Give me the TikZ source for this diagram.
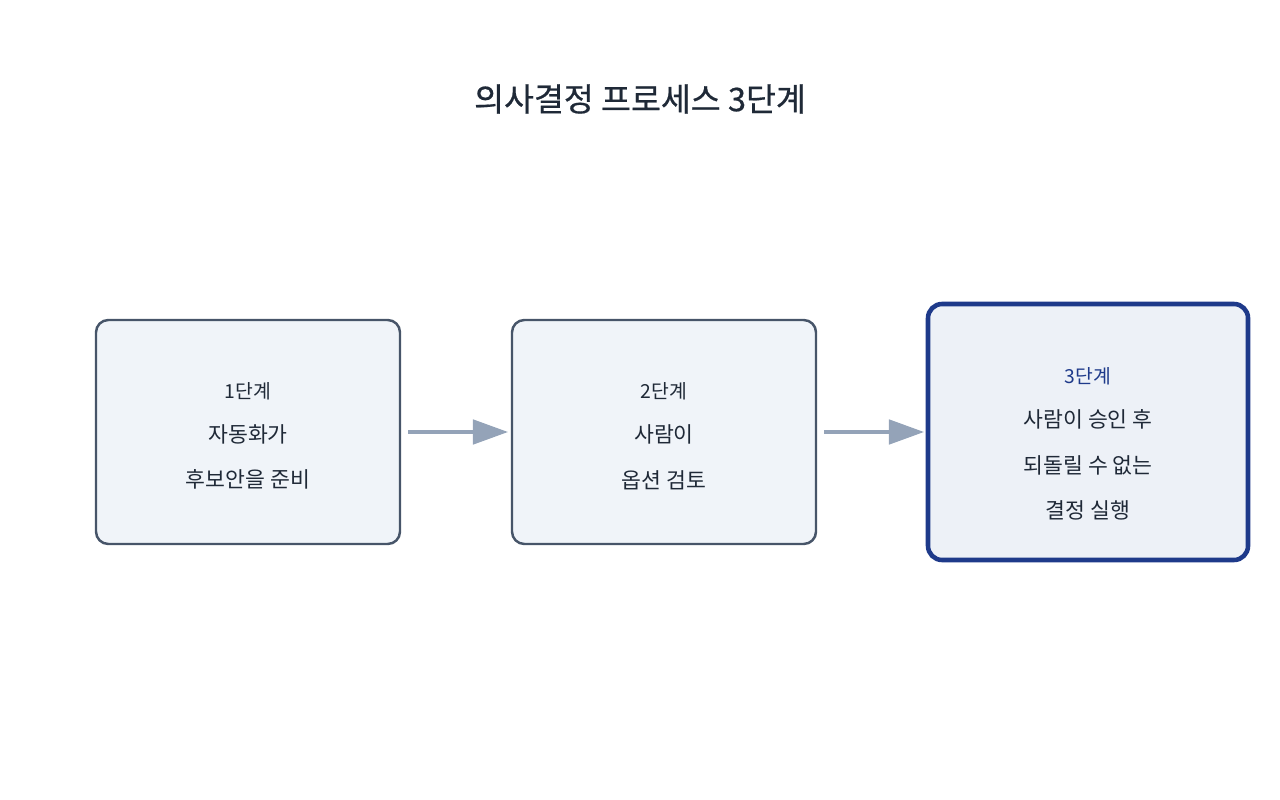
\documentclass[tikz,border=0pt]{standalone}
\usepackage{fontspec}
\setmainfont{Noto Sans CJK KR}
\usetikzlibrary{arrows.meta}
\definecolor{txt}{HTML}{1F2937}
\definecolor{bord}{HTML}{475569}
\definecolor{fillA}{HTML}{F0F4F9}
\definecolor{fillB}{HTML}{EDF1F7}
\definecolor{blu}{HTML}{1E3A8A}
\definecolor{arr}{HTML}{94A3B8}
\begin{document}
\begin{tikzpicture}[x=0.02cm,y=-0.02cm,
  box/.style={draw=bord,line width=1.4pt,fill=fillA,rounded corners=7pt},
  hbox/.style={draw=blu,line width=2.6pt,fill=fillB,rounded corners=8pt},
  lab/.style={text=txt,font=\fontsize{11pt}{13pt}\selectfont},
  body/.style={text=txt,font=\fontsize{12.3pt}{26pt}\selectfont,align=center},
  con/.style={draw=arr,line width=1.8pt,-{Triangle[length=20pt,width=14pt]}}]
\useasboundingbox (0,0) rectangle (1280,800);
\node[text=txt,font=\fontsize{18.5pt}{20pt}\selectfont] (title) at (640,99) {\addfontfeatures{FakeBold=0.6}의사결정 프로세스 3단계};
\draw[box] (96,320) rectangle (400,544);
\draw[box] (512,320) rectangle (816,544);
\draw[hbox] (928,304) rectangle (1248,560);
\coordinate (b1) at (248,432);
\coordinate (b2) at (664,432);
\coordinate (b3) at (1088,432);
\node[lab] (l1) at (248,391) {1단계};
\node[body] (t1) at (248,457) {자동화가\\후보안을 준비};
\node[lab] (l2) at (664,391) {2단계};
\node[body] (t2) at (664,457) {사람이\\옵션 검토};
\node[lab,text=blu] (l3) at (1088,376) {3단계};
\node[body] (t3) at (1088,465) {사람이 승인 후\\되돌릴 수 없는\\결정 실행};
\coordinate (a1s) at (408,432); \coordinate (a1e) at (508,432);
\coordinate (a2s) at (824,432); \coordinate (a2e) at (924,432);
\draw[con] (a1s) -- (a1e);
\draw[con] (a2s) -- (a2e);
\end{tikzpicture}
\end{document}
